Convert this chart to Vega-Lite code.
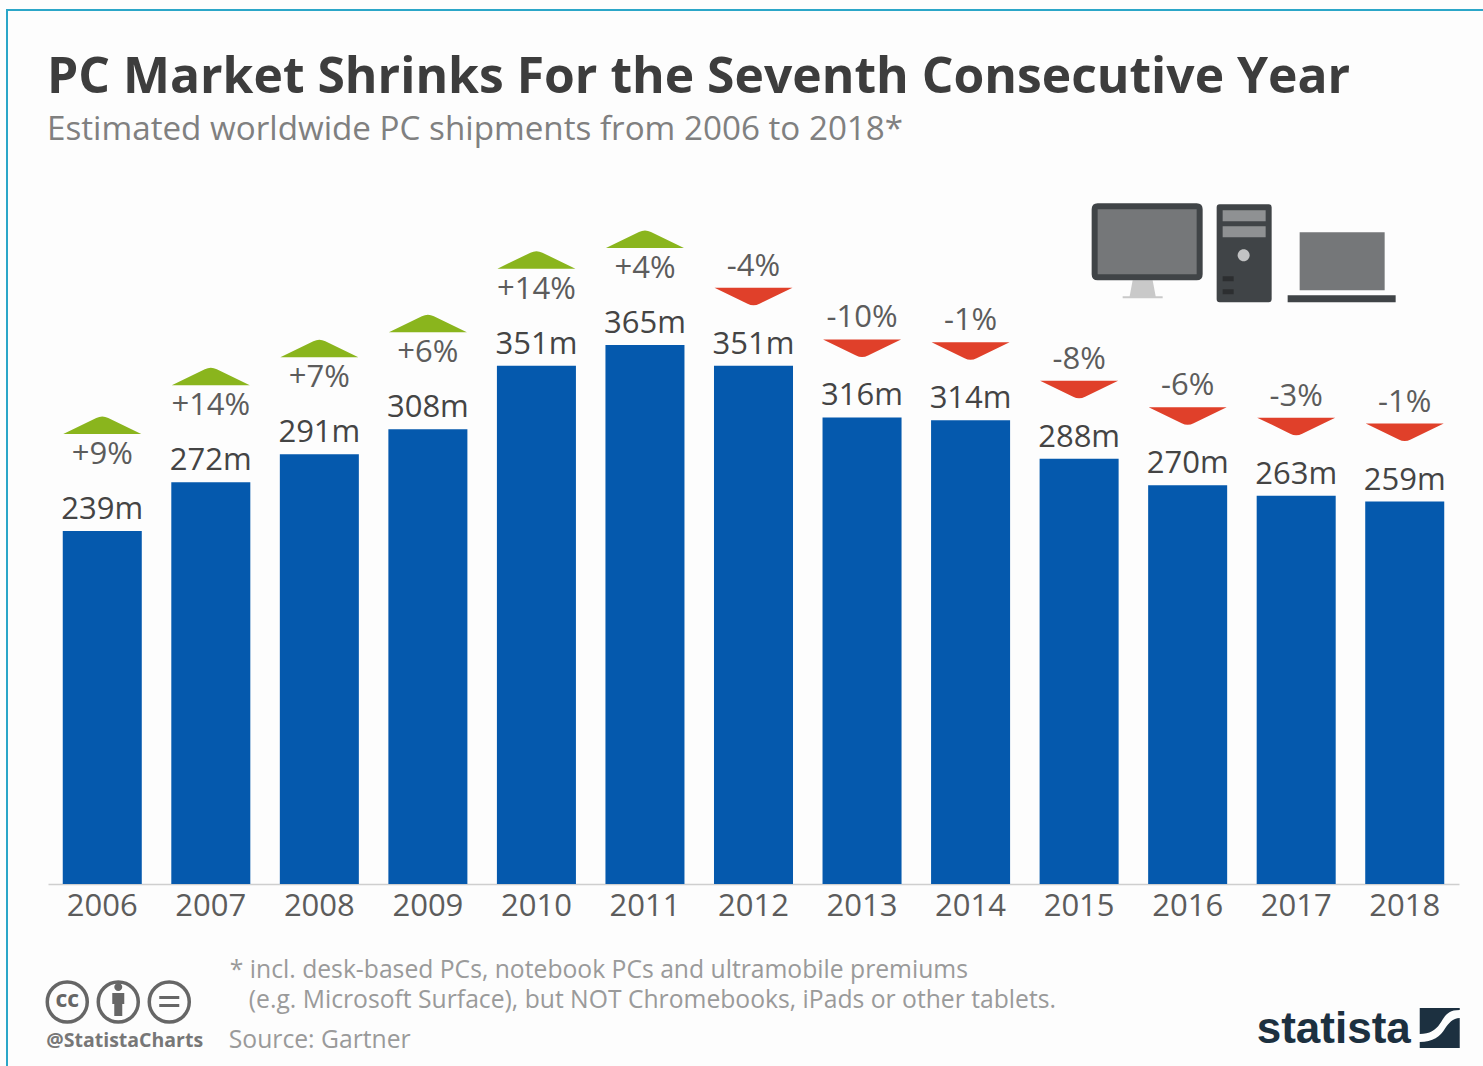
{
  "$schema": "https://vega.github.io/schema/vega-lite/v6.json",
  "autosize": "none",
  "padding": {"left": 7, "top": 10, "right": 0, "bottom": 0},
  "width": 1478,
  "height": 1058,
  "background": "#fdfdfd",
  "title": {
    "text": "PC Market Shrinks For the Seventh Consecutive Year",
    "subtitle": "Estimated worldwide PC shipments from 2006 to 2018*",
    "anchor": "start",
    "frame": "group",
    "dx": 40,
    "offset": -137,
    "font": "Open Sans",
    "fontSize": 49.8,
    "fontWeight": "bold",
    "color": "#3d3d3d",
    "subtitleFont": "Open Sans",
    "subtitleFontSize": 33.2,
    "subtitleColor": "#808080",
    "subtitlePadding": 10
  },
  "config": {
    "view": {"stroke": "#2ba6c8", "strokeWidth": 2, "fill": "#fdfdfd"},
    "text": {"font": "Open Sans"}
  },
  "datasets": {
    "shipments": [
      {"year": "2006", "shipments": 239, "shipments_label": "239m", "change": 9, "change_label": "+9%"},
      {"year": "2007", "shipments": 272, "shipments_label": "272m", "change": 14, "change_label": "+14%"},
      {"year": "2008", "shipments": 291, "shipments_label": "291m", "change": 7, "change_label": "+7%"},
      {"year": "2009", "shipments": 308, "shipments_label": "308m", "change": 6, "change_label": "+6%"},
      {"year": "2010", "shipments": 351, "shipments_label": "351m", "change": 14, "change_label": "+14%"},
      {"year": "2011", "shipments": 365, "shipments_label": "365m", "change": 4, "change_label": "+4%"},
      {"year": "2012", "shipments": 351, "shipments_label": "351m", "change": -4, "change_label": "-4%"},
      {"year": "2013", "shipments": 316, "shipments_label": "316m", "change": -10, "change_label": "-10%"},
      {"year": "2014", "shipments": 314, "shipments_label": "314m", "change": -1, "change_label": "-1%"},
      {"year": "2015", "shipments": 288, "shipments_label": "288m", "change": -8, "change_label": "-8%"},
      {"year": "2016", "shipments": 270, "shipments_label": "270m", "change": -6, "change_label": "-6%"},
      {"year": "2017", "shipments": 263, "shipments_label": "263m", "change": -3, "change_label": "-3%"},
      {"year": "2018", "shipments": 259, "shipments_label": "259m", "change": -1, "change_label": "-1%"}
    ]
  },
  "layer": [
    {
      "data": {"name": "shipments"},
      "encoding": {
        "x": {
          "field": "year",
          "type": "nominal",
          "sort": null,
          "title": null,
          "scale": {
            "domain": ["2006","2007","2008","2009","2010","2011","2012","2013","2014","2015","2016","2017","2018"],
            "range": [41, 1452],
            "paddingInner": 0.272,
            "paddingOuter": 0.136
          },
          "axis": {
            "orient": "bottom",
            "offset": -184,
            "labelAngle": 0,
            "labelFont": "Open Sans",
            "labelFontSize": 31,
            "labelColor": "#5c5c5c",
            "labelPadding": 7,
            "ticks": false,
            "domainColor": "#cfcfcf",
            "domainWidth": 1.5,
            "grid": false
          }
        },
        "y": {
          "field": "shipments",
          "type": "quantitative",
          "title": null,
          "axis": null,
          "scale": {"domain": [0, 591.9], "range": [874, 0], "nice": false}
        }
      },
      "layer": [
        {"mark": {"type": "bar", "color": "#0559ad"}},
        {"mark": {"type": "text", "fontSize": 31, "color": "#444444", "baseline": "middle", "dy": -21}, "encoding": {"text": {"field": "shipments_label"}}},
        {
          "transform": [{"filter": "datum.change > 0"}],
          "layer": [
            {"mark": {"type": "text", "fontSize": 31, "color": "#5c5c5c", "baseline": "middle", "dy": -76}, "encoding": {"text": {"field": "change_label"}}},
            {"mark": {"type": "point", "filled": true, "opacity": 1, "fill": "#8ab51d", "size": 4, "yOffset": -106, "shape": "M-39,9 L-6,-7 Q0,-10 6,-7 L39,9 Z"}}
          ]
        },
        {
          "transform": [{"filter": "datum.change < 0"}],
          "layer": [
            {"mark": {"type": "text", "fontSize": 31, "color": "#5c5c5c", "baseline": "middle", "dy": -99}, "encoding": {"text": {"field": "change_label"}}},
            {"mark": {"type": "point", "filled": true, "opacity": 1, "fill": "#e0402a", "size": 4, "yOffset": -69, "shape": "M-39,-9 L-6,7 Q0,10 6,7 L39,-9 Z"}}
          ]
        }
      ]
    },
    {
      "data": {"values": [{"part": "desktop and laptop icon"}]},
      "encoding": {"x": {"datum": "2016"}, "y": {"datum": 400}},
      "layer": [
        {"mark": {"type": "point", "filled": true, "opacity": 1, "fill": "#c9c9c9", "size": 4, "shape": "M-55,-13 H-35 L-32,3 H-25 V5 H-65 V3 H-58 Z"}},
        {"mark": {"type": "point", "filled": true, "opacity": 1, "fill": "#404447", "size": 4, "shape": "M-90,-90 H9 Q15,-90 15,-84 V-19 Q15,-13 9,-13 H-90 Q-96,-13 -96,-19 V-84 Q-96,-90 -90,-90 Z M29,-86 Q29,-89 32,-89 H81 Q84,-89 84,-86 V6 Q84,9 81,9 H32 Q29,9 29,6 Z M100,2 H208 V9 H100 Z"}},
        {"mark": {"type": "point", "filled": true, "opacity": 1, "fill": "#757779", "size": 4, "shape": "M-90,-84 H9 V-19 H-90 Z M112,-61 H197 V-3 H112 Z"}},
        {"mark": {"type": "point", "filled": true, "opacity": 1, "fill": "#8f9193", "size": 4, "shape": "M35,-83 H78 V-72 H35 Z M35,-67 H78 V-56 H35 Z"}},
        {"mark": {"type": "point", "filled": true, "opacity": 1, "fill": "#c2c3c4", "size": 4, "shape": "M50,-38 a6,6 0 1,0 12,0 a6,6 0 1,0 -12,0 Z"}},
        {"mark": {"type": "point", "filled": true, "opacity": 1, "fill": "#2c2e30", "size": 4, "shape": "M35,-17 H46 V-12 H35 Z M35,-4 H46 V1 H35 Z"}}
      ]
    },
    {
      "data": {"values": [{"part": "licence icons and logo"}]},
      "encoding": {"x": {"datum": "2006"}, "y": {"datum": 0}},
      "layer": [
        {"mark": {"type": "point", "filled": false, "opacity": 1, "stroke": "#666666", "strokeWidth": 3.5, "size": 4, "shape": "M-55,118 a20,20 0 1,0 40,0 a20,20 0 1,0 -40,0 Z M-4,118 a20,20 0 1,0 40,0 a20,20 0 1,0 -40,0 Z M47,118 a20,20 0 1,0 40,0 a20,20 0 1,0 -40,0 Z"}},
        {"mark": {"type": "point", "filled": true, "opacity": 1, "fill": "#666666", "size": 4, "shape": "M12,103 a4,4 0 1,0 8,0 a4,4 0 1,0 -8,0 Z M10,109 H22 V120 H20 V132 H12 V120 H10 Z M57,112 H77 V115 H57 Z M57,120 H77 V123 H57 Z"}},
        {"mark": {"type": "text", "text": "cc", "fontSize": 23, "fontWeight": "bold", "color": "#666666", "baseline": "middle", "dx": -35, "dy": 116}},
        {"mark": {"type": "text", "text": "@StatistaCharts", "fontSize": 19.5, "fontWeight": "bold", "color": "#777777", "baseline": "middle", "align": "left", "dx": -56, "dy": 157}}
      ]
    },
    {
      "data": {"values": [{"part": "notes"}]},
      "encoding": {"x": {"datum": "2007"}, "y": {"datum": 0}},
      "layer": [
        {"mark": {"type": "text", "text": "* incl. desk-based PCs, notebook PCs and ultramobile premiums", "fontSize": 24.7, "color": "#9a9a9a", "baseline": "middle", "align": "left", "dx": 19, "dy": 87}},
        {"mark": {"type": "text", "text": "(e.g. Microsoft Surface), but NOT Chromebooks, iPads or other tablets.", "fontSize": 24.7, "color": "#9a9a9a", "baseline": "middle", "align": "left", "dx": 38, "dy": 117}},
        {"mark": {"type": "text", "text": "Source: Gartner", "fontSize": 24.7, "color": "#9a9a9a", "baseline": "middle", "align": "left", "dx": 18, "dy": 157}}
      ]
    },
    {
      "data": {"values": [{"part": "brand"}]},
      "encoding": {"x": {"datum": "2018"}, "y": {"datum": 0}},
      "layer": [
        {"mark": {"type": "text", "text": "statista", "font": "Liberation Sans", "fontSize": 44, "fontWeight": "bold", "color": "#1c3040", "baseline": "middle", "align": "left", "dx": -148, "dy": 146}},
        {"mark": {"type": "point", "filled": true, "opacity": 1, "fill": "#1c3040", "size": 4, "shape": "M15,124 H55 V126 C42,126 40,133 35,140 C31,146 25,150 15,150 Z M55,134 V164 H15 V158 C28,158 36,152 40,145 C44,139 48,134 55,134 Z"}}
      ]
    }
  ]
}
